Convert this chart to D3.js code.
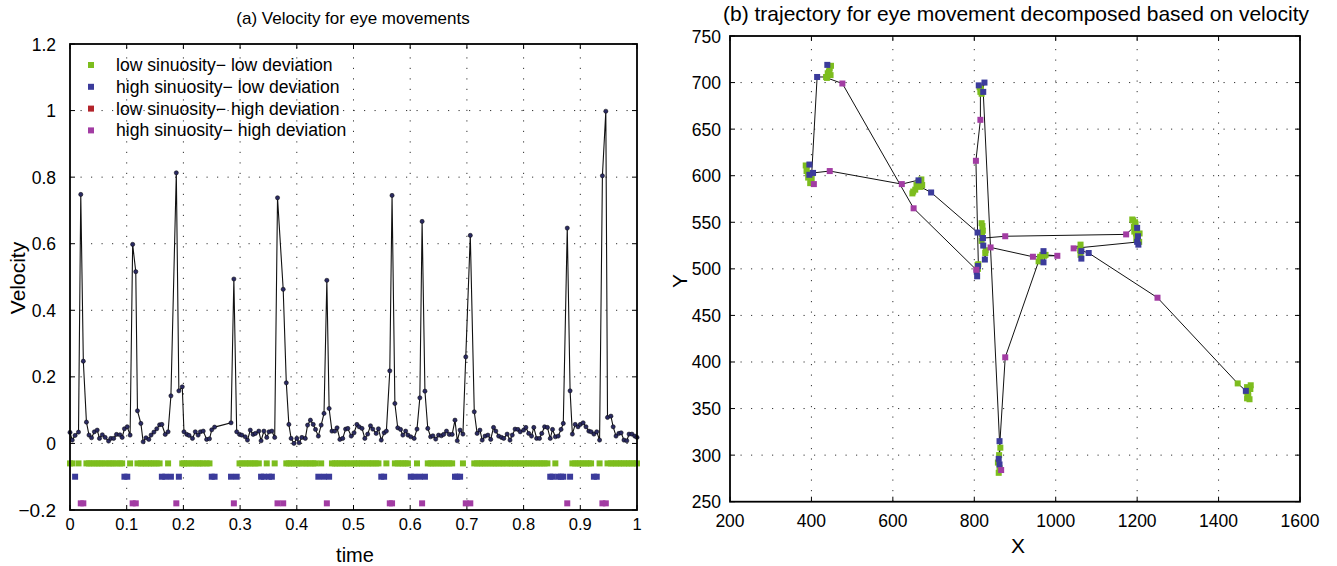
<!DOCTYPE html>
<html><head><meta charset="utf-8">
<script src="https://cdn.jsdelivr.net/npm/d3@7"></script>
<style>
body{margin:0;background:#fff;}
svg{display:block;font-family:"Liberation Sans",Arial,sans-serif;}
</style></head><body>
<svg id="c" width="1337" height="566"></svg>
<script>
// ---------- data ----------
const categories = ["low sinuosity\u2212 low deviation","high sinuosity\u2212 low deviation","low sinuosity\u2212 high deviation","high sinuosity\u2212 high deviation"];
const catColors = ["#7dbd1e","#3b3b9b","#b3242b","#a23ca3"];

const velTime = [0,0.004,0.009,0.015,0.019,0.0235,0.029,0.0335,0.038,0.043,0.048,0.052,0.057,0.062,0.068,0.072,0.077,0.082,0.088,0.092,0.096,0.101,0.106,0.1105,0.116,0.119,0.125,0.129,0.134,0.139,0.143,0.148,0.153,0.158,0.162,0.168,0.173,0.178,0.1875,0.192,0.198,0.201,0.206,0.210,0.216,0.221,0.226,0.230,0.235,0.241,0.246,0.250,0.255,0.284,0.289,0.294,0.299,0.303,0.309,0.313,0.318,0.323,0.327,0.333,0.337,0.342,0.347,0.351,0.356,0.361,0.366,0.376,0.3815,0.386,0.390,0.395,0.400,0.404,0.409,0.415,0.419,0.424,0.429,0.433,0.438,0.443,0.448,0.453,0.457,0.462,0.467,0.471,0.476,0.481,0.486,0.490,0.496,0.501,0.506,0.510,0.515,0.520,0.525,0.530,0.534,0.540,0.544,0.549,0.554,0.558,0.564,0.568,0.573,0.578,0.583,0.587,0.592,0.596,0.601,0.607,0.612,0.617,0.621,0.626,0.631,0.636,0.640,0.645,0.650,0.655,0.659,0.664,0.669,0.674,0.679,0.683,0.688,0.693,0.698,0.706,0.713,0.718,0.723,0.727,0.732,0.737,0.742,0.747,0.751,0.756,0.761,0.765,0.771,0.776,0.780,0.785,0.790,0.794,0.800,0.804,0.809,0.814,0.818,0.823,0.828,0.832,0.837,0.842,0.847,0.851,0.856,0.861,0.866,0.870,0.877,0.882,0.886,0.891,0.896,0.900,0.905,0.910,0.915,0.919,0.924,0.929,0.934,0.939,0.945,0.948,0.954,0.958,0.963,0.968,0.972,0.977,0.982,0.986,0.991,0.996,1.000];
const velValue = [0.033,0.010,0.024,0.034,0.748,0.247,0.064,0.025,0.017,0.035,0.040,0.015,0.026,0.018,0.007,0.015,0.015,0.027,0.026,0.018,0.044,0.050,0.025,0.598,0.516,0.098,0.060,0.005,0.017,0.012,0.025,0.034,0.044,0.056,0.057,0.027,0.035,0.143,0.813,0.158,0.170,0.035,0.027,0.024,0.015,0.035,0.025,0.035,0.037,0.012,0.014,0.041,0.049,0.062,0.494,0.035,0.027,0.025,0.020,0.010,0.040,0.027,0.030,0.037,0.008,0.037,0.018,0.035,0.037,0.018,0.738,0.463,0.182,0.057,0.015,0.000,0.015,0.002,0.018,0.015,0.055,0.070,0.057,0.042,0.022,0.055,0.090,0.490,0.105,0.037,0.037,0.047,0.012,0.015,0.043,0.045,0.022,0.032,0.057,0.050,0.045,0.015,0.028,0.053,0.043,0.030,0.044,0.010,0.032,0.037,0.218,0.745,0.120,0.047,0.042,0.025,0.037,0.025,0.020,0.015,0.043,0.137,0.667,0.157,0.045,0.020,0.023,0.013,0.025,0.023,0.027,0.037,0.027,0.027,0.070,0.008,0.040,0.028,0.260,0.625,0.095,0.030,0.040,0.010,0.022,0.025,0.012,0.048,0.037,0.022,0.018,0.015,0.028,0.010,0.025,0.043,0.042,0.035,0.040,0.048,0.030,0.022,0.048,0.015,0.015,0.030,0.050,0.048,0.015,0.042,0.020,0.022,0.042,0.060,0.647,0.158,0.028,0.057,0.050,0.057,0.062,0.050,0.037,0.035,0.028,0.035,0.010,0.804,0.998,0.078,0.082,0.050,0.022,0.030,0.032,0.010,0.008,0.028,0.028,0.022,0.018];
const velCat = [0,0,1,0,3,3,0,0,0,0,0,0,0,0,0,0,0,0,0,0,1,1,0,3,3,0,0,0,0,0,0,0,0,0,1,1,0,1,3,1,0,0,0,0,0,0,0,0,0,0,0,1,1,1,3,1,0,0,0,0,0,0,0,0,1,1,0,1,1,0,3,3,0,0,0,0,0,0,0,0,0,0,0,0,1,0,1,3,1,0,0,0,0,0,0,0,0,0,0,0,0,0,0,0,0,0,0,1,1,0,3,3,0,0,0,0,0,0,1,1,0,1,3,1,0,0,0,0,0,0,0,0,0,0,1,1,1,0,3,3,0,0,0,0,0,0,0,0,0,0,0,0,0,0,0,0,0,0,0,0,0,0,0,0,0,0,0,0,1,1,0,1,1,1,3,1,0,0,0,0,0,0,0,0,1,1,0,3,3,0,0,0,0,0,0,0,0,0,0,0,0];
const velXTicks = [0,0.1,0.2,0.3,0.4,0.5,0.6,0.7,0.8,0.9,1];
const velYTicks = [-0.2,0,0.2,0.4,0.6,0.8,1,1.2];
const catRowLevel = [-0.06,-0.10,-0.14,-0.18];

const trajX = [820,818,821,819,821,808,694,668,663,658,663,655,650,665,672,648,670,622,445,404,400,392,388,386,395,392,395,397,406,400,414,436,440,445,448,439,443,447,438,476,651,805,808,809,806,807,809,810,804,815,815,813,811,816,825,818,822,862,864,860,858,862,860,866,862,861,876,958,962,967,970,972,1004,975,970,962,944,840,827,826,828,822,818,821,876,1173,1192,1195,1190,1200,1193,1202,1198,1200,1203,1197,1196,1188,1206,1205,1044,1061,1063,1061,1063,1060,1081,1250,1447,1467,1470,1475,1472,1470,1473,1478,1469,1476,1479];
const trajY = [546,549,541,537,533,539,582,588,593,590,595,585,583,590,590,581,596,591,605,603,596,598,605,611,612,603,601,592,591,597,706,706,710,715,718,719,712,708,705,699,565,499,504,503,497,492,500,505,616,660,690,695,697,693,700,688,690,315,308,296,292,290,281,284,286,300,405,508,512,515,519,514,514,515,507,513,513,523,517,510,520,525,530,533,535,537,545,550,552,544,540,535,532,529,526,538,548,553,538,529,522,526,519,515,511,520,517,469,377,369,373,372,366,361,364,371,368,360,375];
const trajCat = [0,0,0,0,1,1,1,0,0,0,1,0,0,0,0,0,0,3,3,1,0,0,0,0,1,0,1,0,3,0,1,0,0,0,0,1,0,0,0,3,3,3,0,1,1,1,0,0,3,3,0,0,1,0,1,0,1,1,0,1,0,1,0,3,0,0,3,0,0,0,1,0,3,0,1,0,3,3,0,1,0,1,0,1,3,3,0,0,0,1,0,1,0,1,1,0,0,0,0,0,3,0,1,0,1,0,1,3,0,1,0,0,0,0,0,0,0,0,0];
const trajXTicks = [200,400,600,800,1000,1200,1400,1600];
const trajYTicks = [250,300,350,400,450,500,550,600,650,700,750];

// ---------- drawing ----------
const svg = d3.select("#c");
const fmt = d => d < 0 ? "\u2212" + Math.abs(d) : String(d);

function frame(g, x, y, xt, yt){
  const [x0,x1] = x.range(), [y0,y1] = y.range();
  g.append("g").selectAll("line").data(xt.slice(1,-1)).join("line")
    .attr("x1",d=>x(d)).attr("x2",d=>x(d)).attr("y1",y0).attr("y2",y1)
    .attr("stroke","#333").attr("stroke-width",1).attr("stroke-dasharray","1.2,9.3");
  g.append("g").selectAll("line").data(yt.slice(1,-1)).join("line")
    .attr("y1",d=>y(d)).attr("y2",d=>y(d)).attr("x1",x0).attr("x2",x1)
    .attr("stroke","#333").attr("stroke-width",1).attr("stroke-dasharray","1.2,9.3");
  const tk = g.append("g").attr("stroke","#000").attr("stroke-width",1);
  xt.forEach(d=>{
    tk.append("line").attr("x1",x(d)).attr("x2",x(d)).attr("y1",y0).attr("y2",y0-5);
    tk.append("line").attr("x1",x(d)).attr("x2",x(d)).attr("y1",y1).attr("y2",y1+5);
  });
  yt.forEach(d=>{
    tk.append("line").attr("y1",y(d)).attr("y2",y(d)).attr("x1",x0).attr("x2",x0+5);
    tk.append("line").attr("y1",y(d)).attr("y2",y(d)).attr("x1",x1).attr("x2",x1-5);
  });
}
function border(g, x, y){
  const [x0,x1] = x.range(), [y0,y1] = y.range();
  g.append("rect").attr("x",x0).attr("y",y1).attr("width",x1-x0).attr("height",y0-y1)
    .attr("fill","none").attr("stroke","#000").attr("stroke-width",1.8);
}

// ----- (a) velocity -----
const xa = d3.scaleLinear().domain([0,1]).range([70,637]);
const ya = d3.scaleLinear().domain([-0.2,1.2]).range([510,44]);
const ga = svg.append("g");
frame(ga, xa, ya, velXTicks, velYTicks);

const velPts = velTime.map((t,i)=>({t, v:velValue[i], c:velCat[i]}));
[0,1,2,3].forEach(c=>{
  ga.append("g").selectAll("rect").data(velPts.filter(p=>p.c===c)).join("rect")
    .attr("x",p=>xa(p.t)-3).attr("y",ya(catRowLevel[c])-3).attr("width",6).attr("height",6)
    .attr("fill",catColors[c]);
});
ga.append("path").datum(velPts)
  .attr("d", d3.line().x(p=>xa(p.t)).y(p=>ya(p.v)))
  .attr("fill","none").attr("stroke","#111").attr("stroke-width",1.1);
ga.append("g").selectAll("circle").data(velPts).join("circle")
  .attr("cx",p=>xa(p.t)).attr("cy",p=>ya(p.v)).attr("r",2.1)
  .attr("fill","#2b2b62").attr("stroke","#000").attr("stroke-width",0.5);
border(ga, xa, ya);

ga.append("g").selectAll("text").data(velXTicks).join("text")
  .attr("x",d=>xa(d)).attr("y",530).attr("text-anchor","middle")
  .attr("font-size",16.5).text(d=>fmt(d));
ga.append("g").selectAll("text").data(velYTicks).join("text")
  .attr("x",56).attr("y",d=>ya(d)+6.5).attr("text-anchor","end")
  .attr("font-size",d=>d===-0.2?19:17.5).text(d=>fmt(d));
ga.append("text").attr("x",353).attr("y",24).attr("text-anchor","middle").attr("font-size",17)
  .text("(a) Velocity for eye movements");
ga.append("text").attr("x",355).attr("y",562).attr("text-anchor","middle").attr("font-size",20).text("time");
ga.append("text").attr("transform","translate(25,278) rotate(-90)").attr("text-anchor","middle")
  .attr("font-size",21).text("Velocity");

// legend
const lg = ga.append("g");
categories.forEach((name,i)=>{
  const yy = 65 + i*21.8;
  lg.append("rect").attr("x",88).attr("y",yy-3).attr("width",6).attr("height",6).attr("fill",catColors[i]);
  lg.append("text").attr("x",116).attr("y",yy+6).attr("font-size",17.6).text(name);
});

// ----- (b) trajectory -----
const xb = d3.scaleLinear().domain([200,1600]).range([730,1300]);
const yb = d3.scaleLinear().domain([250,750]).range([501.7,36]);
const gb = svg.append("g");
frame(gb, xb, yb, trajXTicks, trajYTicks);
const trajPts = trajX.map((x,i)=>({x, y:trajY[i], c:trajCat[i]}));
gb.append("path").datum(trajPts)
  .attr("d", d3.line().x(p=>xb(p.x)).y(p=>yb(p.y)))
  .attr("fill","none").attr("stroke","#111").attr("stroke-width",1);
[0,1,2,3].forEach(c=>{
  gb.append("g").selectAll("rect").data(trajPts.filter(p=>p.c===c)).join("rect")
    .attr("x",p=>xb(p.x)-3).attr("y",p=>yb(p.y)-3).attr("width",6).attr("height",6)
    .attr("fill",catColors[c]);
});
border(gb, xb, yb);
gb.append("g").selectAll("text").data(trajXTicks).join("text")
  .attr("x",d=>xb(d)).attr("y",527).attr("text-anchor","middle").attr("font-size",17.5).text(d=>d);
gb.append("g").selectAll("text").data(trajYTicks).join("text")
  .attr("x",721).attr("y",d=>yb(d)+6.5).attr("text-anchor","end").attr("font-size",17.5).text(d=>d);
gb.append("text").attr("x",1016).attr("y",21).attr("text-anchor","middle").attr("font-size",21)
  .text("(b) trajectory for eye movement decomposed based on velocity");
gb.append("text").attr("x",1018).attr("y",553).attr("text-anchor","middle").attr("font-size",21).text("X");
gb.append("text").attr("transform","translate(687,281) rotate(-90)").attr("text-anchor","middle")
  .attr("font-size",21).text("Y");
</script>
</body></html>
